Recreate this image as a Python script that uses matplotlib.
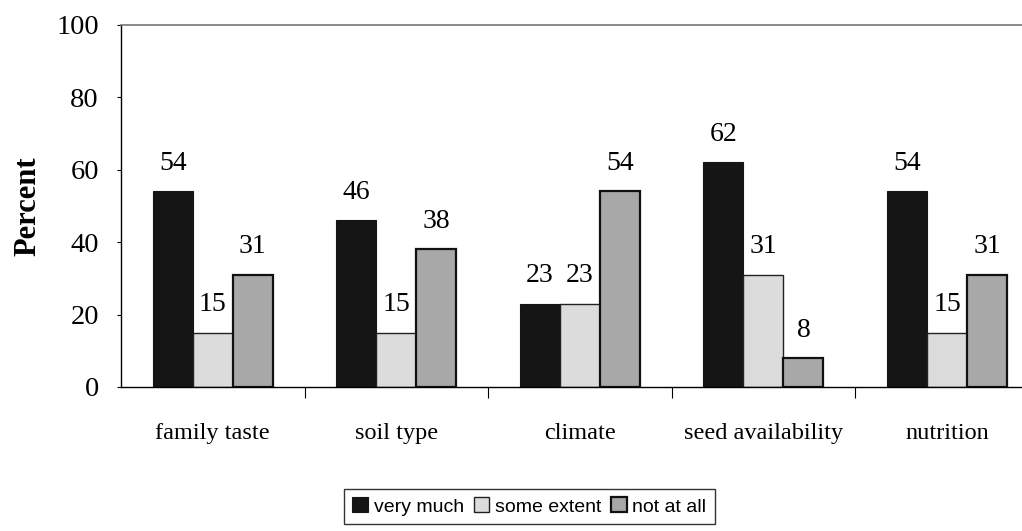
import numpy as np
import matplotlib.pyplot as plt

# data
categories = ['family taste', 'soil type', 'climate', 'seed availability', 'nutrition']
very_much = [54, 46, 23, 62, 54]
some_extent = [15, 15, 23, 31, 15]
not_at_all = [31, 38, 54, 8, 31]
series_names = ['very much', 'some extent', 'not at all']

serif = ['Liberation Serif', 'DejaVu Serif']
sans = ['Liberation Sans', 'DejaVu Sans']

fig = plt.figure(figsize=(10.22, 5.31), dpi=100)
ax = fig.add_axes([0.1184, 0.2712, 0.898, 0.682])

x = np.arange(len(categories))
w = 0.218
series = [very_much, some_extent, not_at_all]
colors = ['#151515', '#dcdcdc', '#a8a8a8']
edges = ['#151515', '#222222', '#111111']
lws = [0.8, 1.0, 1.6]

handles = []
for i, vals in enumerate(series):
    pos = x + (i - 1) * w
    b = ax.bar(pos, vals, w, color=colors[i], edgecolor=edges[i], linewidth=lws[i],
               label=series_names[i])
    handles.append(b)
    for p, v in zip(pos, vals):
        ax.annotate(str(v), (p, v), xytext=(0, 11), textcoords='offset points',
                    ha='center', va='bottom', fontsize=20, family=serif)

ax.set_xlim(-0.5, len(categories) - 0.5)
ax.set_ylim(0, 100)
ax.set_yticks(range(0, 101, 20))
ax.tick_params(axis='y', labelsize=20.5, length=3, width=0.8, pad=13)
for lab in ax.get_yticklabels():
    lab.set_family(serif)

ax.set_xticks(x)
ax.set_xticklabels(categories, fontsize=17.5, family=serif)
ax.tick_params(axis='x', length=0, pad=26)
ax.set_xticks(np.arange(0.5, len(categories) - 0.5, 1), minor=True)
ax.tick_params(axis='x', which='minor', length=8, width=0.8, direction='out')

ax.set_ylabel('Percent', fontsize=22, fontweight='bold', family=serif, labelpad=10)

ax.spines['top'].set_color('#777777')
ax.spines['top'].set_linewidth(1.2)
for s in ['left', 'bottom']:
    ax.spines[s].set_linewidth(1.0)

leg = fig.legend(handles=handles, labels=series_names, loc='center',
                 bbox_to_anchor=(0.518, 0.046), ncol=3, frameon=True, fancybox=False,
                 edgecolor='black', prop={'family': sans, 'size': 14},
                 handlelength=0.8, handleheight=0.8, handletextpad=0.3,
                 columnspacing=0.5, borderpad=0.45, borderaxespad=0)
leg.get_frame().set_linewidth(1.0)

fig.savefig('out.png', dpi=100)
